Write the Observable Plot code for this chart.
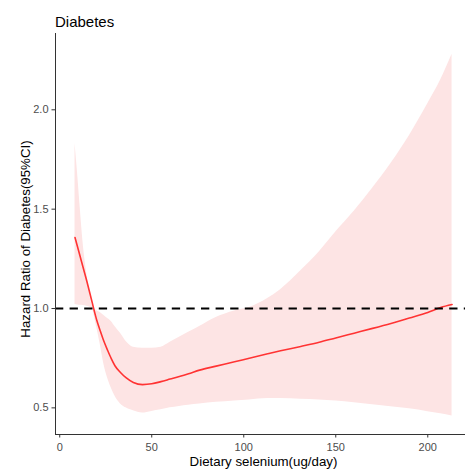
<!DOCTYPE html>
<html>
<head>
<meta charset="utf-8">
<script src="https://cdn.jsdelivr.net/npm/d3@7"></script>
<script src="https://cdn.jsdelivr.net/npm/@observablehq/plot@0.6"></script>
<style>
  html, body { margin: 0; padding: 0; background: #fff; overflow: hidden; }
  #wrap { position: relative; width: 465px; height: 470px; font-family: "Liberation Sans", Arial, sans-serif; }
  #title { position: absolute; left: 55px; top: 14px; font-size: 15px; line-height: 15px; color: #000; }
</style>
</head>
<body>
<div id="wrap"><div id="title">Diabetes</div></div>
<script>
// Dietary selenium (ug/day)
const selenium = [8.3, 9.7, 11.1, 12.6, 14.8, 17.5, 20, 22, 24, 26, 28, 30, 33, 36, 40, 45, 50, 55, 60, 65, 70, 76, 85, 95, 103, 113, 120, 131, 141, 150, 160, 170, 180, 190, 200, 207, 213.2];
// Hazard ratio estimate
const hazard = [1.357, 1.31, 1.262, 1.21, 1.135, 1.035, 0.945, 0.888, 0.835, 0.79, 0.748, 0.712, 0.678, 0.652, 0.628, 0.617, 0.621, 0.632, 0.645, 0.658, 0.672, 0.69, 0.71, 0.732, 0.75, 0.772, 0.787, 0.809, 0.83, 0.852, 0.876, 0.90, 0.925, 0.952, 0.98, 1.005, 1.02];
// 95% CI bounds
const lower = [1.02, 1.018, 1.016, 1.015, 1.012, 1.0, 0.91, 0.82, 0.72, 0.65, 0.60, 0.56, 0.52, 0.50, 0.485, 0.474, 0.482, 0.49, 0.50, 0.507, 0.513, 0.519, 0.528, 0.535, 0.54, 0.547, 0.547, 0.544, 0.54, 0.535, 0.526, 0.516, 0.506, 0.495, 0.481, 0.47, 0.459];
const upper = [1.83, 1.68, 1.51, 1.34, 1.17, 1.02, 0.99, 0.98, 0.965, 0.95, 0.935, 0.91, 0.875, 0.835, 0.805, 0.80, 0.80, 0.805, 0.83, 0.855, 0.88, 0.91, 0.955, 0.988, 1.005, 1.05, 1.095, 1.19, 1.285, 1.385, 1.49, 1.605, 1.73, 1.87, 2.03, 2.15, 2.28];

const xTicks = [0, 50, 100, 150, 200];
const yTicks = [0.5, 1.0, 1.5, 2.0];
const reference = [1];
const xLabel = "Dietary selenium(ug/day)";
const yLabel = "Hazard Ratio of Diabetes(95%CI)";

const data = selenium.map((x, i) => ({x, hr: hazard[i], lo: lower[i], hi: upper[i]}));

const chart = Plot.plot({
  width: 465,
  height: 470,
  marginTop: 33,
  marginLeft: 55,
  marginRight: 0,
  marginBottom: 36,
  style: {fontFamily: "'Liberation Sans', Arial, sans-serif", background: "transparent", color: "#000"},
  x: {domain: [-2.3, 220.5]},
  y: {domain: [0.366, 2.384]},
  marks: [
    Plot.areaY(data, {x: "x", y1: "lo", y2: "hi", fill: "#fde4e4", curve: "monotone-x"}),
    Plot.lineY(data, {x: "x", y: "hr", stroke: "#ff3333", strokeWidth: 1.6, curve: "monotone-x"}),
    Plot.ruleY(reference, {stroke: "#000", strokeWidth: 2, strokeDasharray: "8.3,6.3"}),
    Plot.axisX({ticks: xTicks, tickFormat: d => String(d), tickSize: 3.5, tickPadding: 5, fontSize: 11, fill: "#4d4d4d", stroke: "#333", label: null}),
    Plot.axisY({ticks: yTicks, tickFormat: d => d.toFixed(1), tickSize: 3.5, tickPadding: 3.5, fontSize: 11, fill: "#4d4d4d", stroke: "#333", label: null}),
    Plot.frame({anchor: "left", stroke: "#333"}),
    Plot.frame({anchor: "bottom", stroke: "#333"}),
    Plot.text([xLabel], {text: d => d, frameAnchor: "bottom", dx: 3, dy: 31, lineAnchor: "bottom", fontSize: 13.3, fill: "#000"}),
    Plot.text([yLabel], {text: d => d, frameAnchor: "left", textAnchor: "middle", rotate: -90, dx: -26, dy: 5, lineAnchor: "bottom", fontSize: 13.3, fill: "#000"})
  ]
});
document.getElementById("wrap").appendChild(chart);
chart.style.position = "absolute";
chart.style.left = "0";
chart.style.top = "0";
</script>
</body>
</html>
